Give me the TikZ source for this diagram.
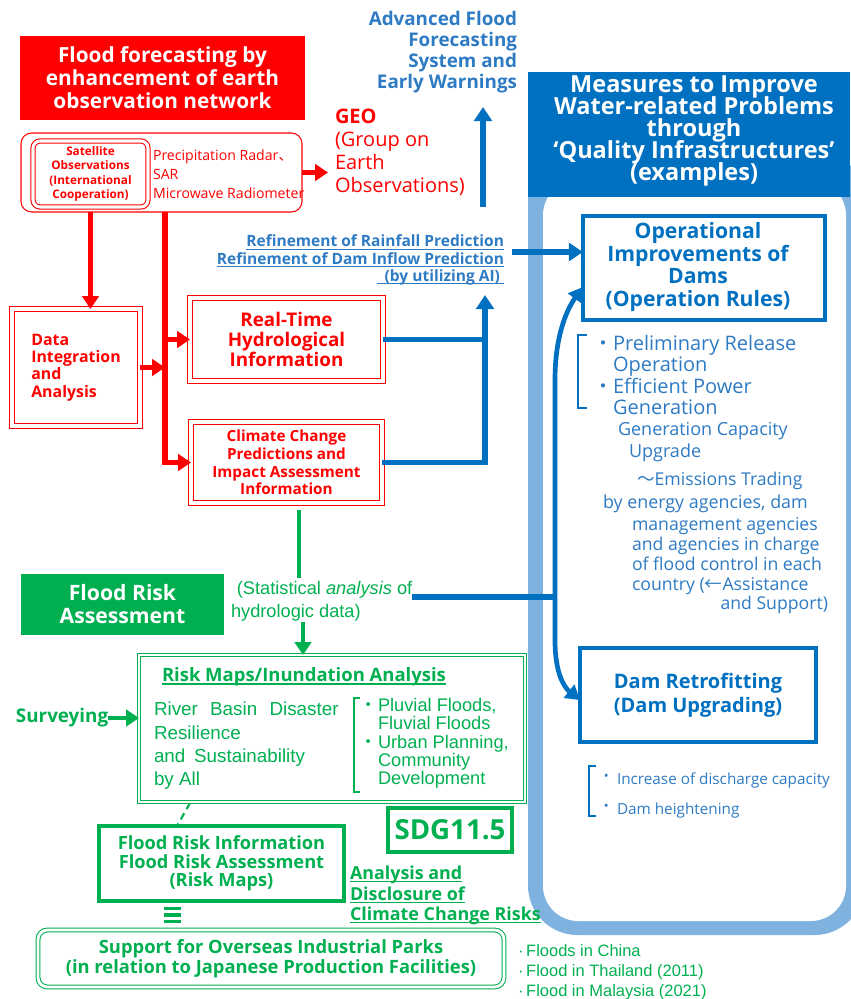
\documentclass[tikz,border=0pt]{standalone}
\usepackage{fontspec}
\setmainfont{Open Sans}
\newfontfamily\arialf{Liberation Sans}
\newfontfamily\cjk{Noto Sans CJK JP}
\usetikzlibrary{arrows.meta,calc}
\definecolor{ffred}{HTML}{FF0000}
\definecolor{ffgreen}{HTML}{00B050}
\definecolor{dkblue}{HTML}{0070C0}
\definecolor{txblue}{HTML}{2E7BC4}
\definecolor{band}{HTML}{80B2DF}
\newcommand\fs[2]{\fontsize{#1}{#2}\selectfont\lineskiplimit=-100pt\relax}
\newsavebox\ulbox
\newcommand\uln[1]{\sbox\ulbox{#1}\rlap{\rule[-2.3pt]{\wd\ulbox}{0.9pt}}\usebox\ulbox}
\tikzset{
 sz/.style 2 args={minimum width={#1*0.85pt},minimum height={#2*0.85pt}},
 nsep/.style={inner sep=0pt, outer sep=0pt},
 redbox/.style={nsep, draw=ffred, double=white, double distance=2.6pt, line width=0.9pt, text=ffred, align=center, font=\bfseries},
 grnbox/.style={nsep, draw=ffgreen, double=white, double distance=2.4pt, line width=0.9pt, text=ffgreen, align=center, font=\bfseries},
 bluebox/.style={nsep, draw=dkblue, line width=3pt, text=dkblue, align=center, font=\bfseries},
 gbox/.style={nsep, draw=ffgreen, line width=3pt, text=ffgreen, align=center, font=\bfseries},
 rarrow/.style={draw=ffred, line width=4.5pt, -{Triangle[length=11pt,width=14pt]}},
 barrow/.style={draw=dkblue, line width=4.5pt, -{Triangle[length=12pt,width=15pt]}},
 bline/.style={draw=dkblue, line width=4.5pt},
 garrow/.style={draw=ffgreen, line width=3.5pt, -{Triangle[length=11pt,width=14pt]}},
 gline/.style={draw=ffgreen, line width=3.5pt},
 btext/.style={nsep, text=txblue, align=left},
}
\begin{document}
\begin{tikzpicture}[x=0.85pt,y=-0.85pt]
\useasboundingbox (0,0) rectangle (850,999);
% right frame
\fill[band, rounded corners=42pt] (528,150) rectangle (864,935);
\fill[white, rounded corners=30pt] (543,180) rectangle (846,921);
\node[nsep, fill=dkblue, sz={322}{125}] (hdr) at (689,134.5) {};
\node[nsep, text=white, font=\bfseries\fs{20}{18.7}, align=center] (hdrt) at (694,131) {Measures to Improve\\Water-related Problems\\through\\‘Quality Infrastructures’\\(examples)};

% red title
\node[nsep, fill=ffred, text=white, font=\bfseries\fs{17.7}{19.5}, align=center, sz={285}{84}] (ff) at (162.5,78) {Flood forecasting by\\enhancement of earth\\observation network};

\node[nsep, draw=ffred, line width=0.9pt, rounded corners=9pt, sz={281}{79}] (satg) at (161.5,172.5) {};
\node[redbox, rounded corners=6pt, sz={115}{66}, font=\bfseries\fs{10}{12.3}] (satb) at (90.5,174) {Satellite\\Observations\\(International\\Cooperation)};
\node[nsep, text=ffred, align=left, font=\fs{12}{16}, anchor=west] (satt) at (153,174) {Precipitation Radar{\cjk 、}\\SAR\\Microwave Radiometer};
\node[nsep, text=ffred, align=left, font=\fs{17}{19.5}, anchor=west] (geo) at (335,152) {\textbf{GEO}\\(Group on\\Earth\\Observations)};
\draw[rarrow] (satg.east) -- ($(satg.east -| geo.west)+(-7,0)$);

% advanced
\node[nsep, text=txblue, align=right, font=\bfseries\fs{16}{17.8}, anchor=east] (adv) at (517,52.5) {Advanced Flood\\Forecasting\\System and\\Early Warnings};
\coordinate (upA) at (483,207);
\coordinate (upB) at (483,107);
\draw[barrow] (upA) -- (upB);

% refinement
\node[nsep, text=txblue, align=right, font=\bfseries\fs{13.2}{14.6}, anchor=east] (ref) at (504,260) {\uln{Refinement of Rainfall Prediction}\\\uln{Refinement of Dam Inflow Prediction}\\\uln{\ \ (by utilizing AI)\ }};

% operational box
\node[bluebox, sz={242}{104}] (op) at (704,268) {};
\node[nsep, text=dkblue, align=center, font=\bfseries\fs{18}{19.5}] (opt) at (698,267) {Operational\\Improvements of\\Dams\\(Operation Rules)};
\coordinate (rfa) at (512,252);
\draw[barrow] (rfa) -- (rfa -| op.west);

% red boxes
\node[redbox, sz={128}{117}, font=\bfseries\fs{13.5}{14.7}, align=left] (di) at (76,367.5) {Data\\Integration\\and\\Analysis};
\node[redbox, sz={193}{83}, font=\bfseries\fs{16}{17}] (rt) at (286.5,339.5) {Real-Time\\Hydrological\\Information};
\node[redbox, sz={191}{81}, font=\bfseries\fs{13}{15}] (cc) at (286.5,462.5) {Climate Change\\Predictions and\\Impact Assessment\\Information};

\coordinate (tr) at (165,0);
\draw[rarrow] (satb.south |- satg.south) -- (satb.south |- di.north);
\draw[rarrow] (tr |- satg.south) -- (tr |- cc.west) -- (cc.west);
\draw[rarrow] (tr |- rt.west) -- (rt.west);
\draw[rarrow] (di.east) -- (tr |- di.east);

% blue from red boxes
\coordinate (upt) at (485,295);
\draw[bline] (rt.east) -- (rt.east -| upt);
\draw[barrow] (cc.east) -| (upt);

% green section
\coordinate (g2) at (299,578);
\draw[gline, shorten <=6pt] (cc.south -| g2) -- (g2);
\node[nsep, fill=ffgreen, text=white, font=\bfseries\fs{18}{19.5}, align=center, sz={203}{61}] (fra) at (122.5,604.5) {Flood Risk\\Assessment};
\node[nsep, text=ffgreen, font=\arialf\fs{15.5}{19.5}, align=left, anchor=west] (st) at (231,601.5) {\hspace*{5pt}(Statistical \textit{analysis} of\\hydrologic data)};
\coordinate (cv) at (555,597);
\draw[bline] (st.east |- cv) -- (cv);

\node[grnbox, sz={386}{147}] (rm) at (332,728.5) {};
\coordinate (g3) at (303,622);
\draw[garrow] (g3) -- (g3 |- rm.north);
\node[nsep, text=ffgreen, font=\bfseries\fs{15.7}{19}, anchor=west] (rmt) at (162,677) {\uln{Risk Maps/Inundation Analysis}};
\node[nsep, text=ffgreen, font=\arialf\fs{16}{19.8}, align=left, anchor=west] (rml) at (154,746) {River\hspace{6pt} Basin\hspace{6pt} Disaster\\Resilience\\and\hspace{3pt} Sustainability\\by All};
\draw[ffgreen, line width=1.6pt] (360,698) -- (354,698) -- (354,792) -- (360,792);
\node[nsep, text=ffgreen, font=\arialf\fs{15.5}{15.6}, align=left, anchor=west] (rmr) at (378,743.5) {\llap{\cjk ・}Pluvial Floods,\\Fluvial Floods\\\llap{\cjk ・}Urban Planning,\\Community\\Development};

\node[nsep, text=ffgreen, font=\bfseries\fs{16}{19}, anchor=west] (sv) at (16,718) {Surveying};
\draw[garrow] (sv.east) -- (sv.east -| rm.west);

\node[gbox, sz={245}{75}, font=\bfseries\fs{15.5}{15.7}] (fri) at (221.5,863.5) {Flood Risk Information\\Flood Risk Assessment\\(Risk Maps)};
\draw[ffgreen, line width=1.8pt, dash pattern=on 6pt off 4pt] ($(rm.south west)+(51,1)$) -- ($(fri.north west)+(78,0)$);
\node[gbox, sz={124}{44}, font=\bfseries\fs{23.5}{24}] (sdg) at (450,830) {SDG11.5};
\node[nsep, text=ffgreen, font=\bfseries\fs{15.2}{17.4}, align=left, anchor=west] (adc) at (350,895.5) {\uln{Analysis and}\\\uln{Disclosure of}\\\uln{Climate Change Risks}};
\foreach \yy in {908.5,915,921.5} \draw[ffgreen, line width=2.6pt] (164,\yy) -- (181,\yy);
\node[grnbox, rounded corners=8pt, sz={466}{57}, font=\bfseries\fs{15.6}{17}] (spo) at (271,958.5) {Support for Overseas Industrial Parks\\(in relation to Japanese Production Facilities)};
\node[nsep, text=ffgreen, font=\arialf\fs{14}{17}, align=left, anchor=west] (fl) at (518,972) {·\,Floods in China\\·\,Flood in Thailand (2011)\\·\,Flood in Malaysia (2021)};

% right panel texts
\draw[dkblue, line width=1.8pt] (587,335) -- (578,335) -- (578,408) -- (587,408);
\node[btext, font=\fs{17}{18.1}, anchor=west] (pr) at (613,375) {\llap{\cjk ・}Preliminary Release\\Operation\\\llap{\cjk ・}Efficient Power\\Generation};
\node[btext, font=\fs{15.3}{18}, anchor=west] (gc) at (618,431) {Generation Capacity};
\node[btext, font=\fs{15.3}{18}, anchor=west] (ug) at (629,453) {Upgrade};
\node[btext, font=\fs{15}{18}, anchor=west] (et) at (637,481) {{\cjk ～}Emissions Trading};
\node[btext, font=\fs{15.2}{17}, anchor=west] (be) at (603,504) {by energy agencies, dam};
\node[btext, font=\fs{15}{17}, anchor=west] (ma) at (632,556) {management agencies\\and agencies in charge\\of flood control in each\\country ({\cjk ←}Assistance};
\node[btext, font=\fs{15}{17}, anchor=east] (as) at (828,605) {and Support)};

\node[bluebox, sz={236}{94}, font=\bfseries\fs{17}{20.4}] (dr) at (698,695) {Dam Retrofitting\\(Dam Upgrading)};
\draw[dkblue, line width=1.8pt] (596,766) -- (589,766) -- (589,816) -- (596,816);
\node[btext, font=\fs{13}{25.5}, anchor=west] (ic) at (617,795) {\llap{\raisebox{3pt}{\fs{11}{11}•}\hspace{7pt}}Increase of discharge capacity\\\llap{\raisebox{3pt}{\fs{11}{11}•}\hspace{7pt}}Dam heightening};

% curved double arrow
\coordinate (ptop) at ($(op.south west)+(0,-33)$);
\coordinate (pbot) at ($(dr.west)+(0,5)$);
\draw[dkblue, line width=4pt, {Triangle[length=12pt,width=14pt]}-{Triangle[length=12pt,width=14pt]}] (ptop) .. controls (570,305) and (555,330) .. (555,380) -- (555,640) .. controls (555,675) and (565,688) .. (pbot);
\end{tikzpicture}
\end{document}
